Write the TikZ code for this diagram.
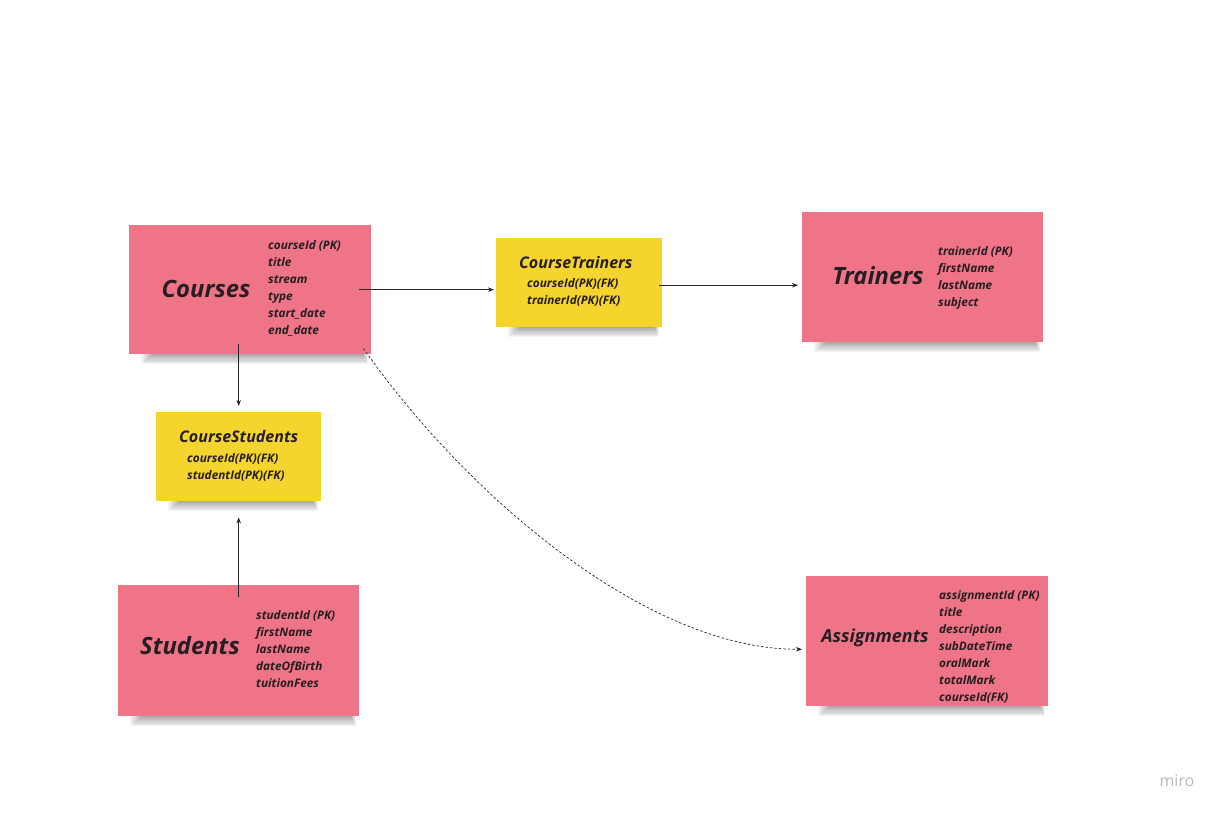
\documentclass[tikz,border=0pt]{standalone}
\usepackage{fontspec}
\setmainfont{Open Sans}
\usetikzlibrary{arrows.meta,calc}
\definecolor{notepink}{RGB}{240,116,135}
\definecolor{noteyellow}{RGB}{245,212,46}
\definecolor{inktext}{RGB}{38,30,34}
\definecolor{mirogray}{RGB}{185,185,190}
\newcommand{\noteshade}[3]{%
  \foreach \i in {0,...,8}{
    \fill[black,opacity=0.045] (#1+24-1.5*\i,#3-6) rectangle (#2-8+0.6*\i,#3+1+\i*1.1);
  }}
\begin{document}
\begin{tikzpicture}[x=1pt,y=-1pt,
  note/.style={draw=none,inner sep=0pt,anchor=north west},
  pinknote/.style={note,fill=notepink},
  yellownote/.style={note,fill=noteyellow},
  bigtitle/.style={inner sep=0pt,text=inktext,font=\fontsize{23.8}{28}\selectfont\bfseries\itshape},
  midtitle/.style={inner sep=0pt,text=inktext,font=\fontsize{18}{21}\selectfont\bfseries\itshape},
  smalltitle/.style={inner sep=0pt,text=inktext,font=\fontsize{16}{19}\selectfont\bfseries\itshape},
  attrs/.style={inner sep=0pt,anchor=north west,align=left,text=inktext,font=\fontsize{11.8}{17}\selectfont\bfseries\itshape},
  link/.style={draw=black!85,line width=0.7pt,-{Stealth[length=6pt,width=4.5pt]}},
  dlink/.style={link,dash pattern=on 2.5pt off 2pt}]
\useasboundingbox[fill=white] (0,0) rectangle (1224,816);

% shadows
\noteshade{129}{371}{354}
\noteshade{496}{662}{327}
\noteshade{802}{1043}{342}
\noteshade{156}{321}{501}
\noteshade{118}{359}{716}
\noteshade{806}{1048}{706}

% notes
\node[pinknote,minimum width=242pt,minimum height=129pt] (courses) at (129,225) {};
\node[yellownote,minimum width=166pt,minimum height=89pt] (ctrainers) at (496,238) {};
\node[pinknote,minimum width=241pt,minimum height=130pt] (trainers) at (802,212) {};
\node[yellownote,minimum width=165pt,minimum height=89pt] (cstudents) at (156,412) {};
\node[pinknote,minimum width=241pt,minimum height=131pt] (students) at (118,585) {};
\node[pinknote,minimum width=242pt,minimum height=130pt] (assign) at (806,576) {};

% texts
\node[bigtitle] (coursesT) at (206,289) {Courses};
\node[attrs] (coursesA) at (268,240) {courseId (PK)\\title\\stream\\type\\start\_date\\end\_date};

\node[smalltitle,anchor=west] (ctT) at (519,262) {CourseTrainers};
\node[attrs] (ctA) at (527,278) {courseId(PK)(FK)\\trainerId(PK)(FK)};

\node[bigtitle] (trainersT) at (878,276) {Trainers};
\node[attrs] (trainersA) at (938,246) {trainerId (PK)\\firstName\\lastName\\subject};

\node[smalltitle,anchor=west] (csT) at (179,436) {CourseStudents};
\node[attrs] (csA) at (187,453) {courseId(PK)(FK)\\studentId(PK)(FK)};

\node[bigtitle] (studentsT) at (190,646) {Students};
\node[attrs] (studentsA) at (256,610) {studentId (PK)\\firstName\\lastName\\dateOfBirth\\tuitionFees};

\node[midtitle] (assignT) at (875,638) {Assignments};
\node[attrs] (assignA) at (939,590) {assignmentId (PK)\\title\\description\\subDateTime\\oralMark\\totalMark\\courseId(FK)};

\node[inner sep=0pt,text=mirogray,font=\fontsize{16}{19}\selectfont] (miro) at (1177,781) {miro};

% connectors
\coordinate (c1) at ([xshift=-12pt]courses.east);
\draw[link,shorten >=2pt] (c1) -- (c1 -| ctrainers.west);

\coordinate (c2) at ($(ctrainers.east)+(-3,2.5)$);
\draw[link,shorten >=4pt] (c2) -- (c2 -| trainers.west);

\coordinate (c3) at ($(cstudents.north |- courses.south)+(0,-10)$);
\draw[link,shorten >=6pt] (c3) -- (cstudents.north);

\coordinate (c4) at ($(cstudents.south |- students.north)+(0,12)$);
\draw[link,shorten >=16pt] (c4) -- (cstudents.south);

\coordinate (c5) at ($(courses.south east)+(-8,-6)$);
\coordinate (c6) at ($(assign.west)+(0,8)$);
\draw[dlink,shorten >=4pt] (c5) .. controls (470,500) and (650,650) .. (c6);
\end{tikzpicture}
\end{document}
